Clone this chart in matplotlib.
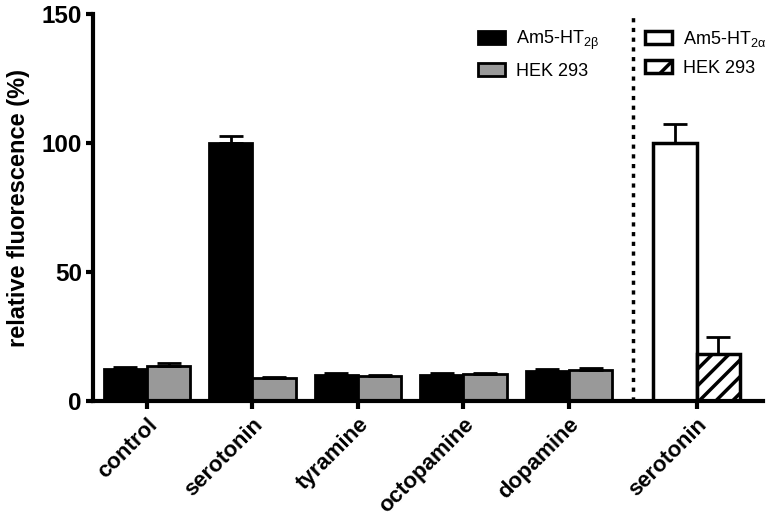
import matplotlib
matplotlib.use("Agg")
import matplotlib.pyplot as plt
from matplotlib.patches import Patch
import numpy as np

plt.rcParams['font.family'] = ['Liberation Sans', 'DejaVu Sans']
plt.rcParams['hatch.linewidth'] = 2.5

# data
ligands = ['control', 'serotonin', 'tyramine', 'octopamine', 'dopamine']
beta_vals = [12.6, 100.2, 10.1, 10.1, 11.7]
beta_err = [0.7, 2.5, 0.6, 0.9, 0.6]
hek_vals = [13.7, 8.9, 9.8, 10.3, 12.1]
hek_err = [1.0, 0.4, 0.4, 0.6, 0.7]

alpha_label = 'serotonin'
alpha_val = 100.2
alpha_err = 7.0
alpha_hek_val = 18.2
alpha_hek_err = 6.5

yticks = [0, 50, 100, 150]

fig = plt.figure(figsize=(7.68, 5.2), dpi=100)
ax = fig.add_axes([93 / 768, 0.2288, 670 / 768, 0.7442])

w = 0.41
x = np.arange(len(ligands))
x2 = 5.21
err_kw = dict(elinewidth=2, capthick=2, capsize=8.5, ecolor='black')

ax.bar(x - w / 2, beta_vals, w, color='black', edgecolor='black', linewidth=2,
       yerr=[np.zeros(len(x)), beta_err], error_kw=err_kw, zorder=2)
ax.bar(x + w / 2, hek_vals, w, color='#999999', edgecolor='black', linewidth=2,
       yerr=[np.zeros(len(x)), hek_err], error_kw=err_kw, zorder=2)
ax.bar([x2 - w / 2], [alpha_val], w, color='white', edgecolor='black', linewidth=2.5,
       yerr=[[0], [alpha_err]], error_kw=err_kw, zorder=2)
ax.bar([x2 + w / 2], [alpha_hek_val], w, color='white', edgecolor='black', linewidth=2.5,
       hatch='//', yerr=[[0], [alpha_hek_err]], error_kw=err_kw, zorder=2)

ax.axvline(4.61, ymin=0, ymax=1, color='black', linestyle=(0, (1.2, 1.6)), linewidth=2.5)

ax.set_xlim(-0.512, 5.84)
ax.set_ylim(0, 150)
ax.set_yticks(yticks)
ax.set_yticklabels([str(t) for t in yticks], fontsize=17.5, fontweight='bold')
ax.set_xticks(list(x) + [x2])
ax.set_xticklabels(ligands + [alpha_label], rotation=45, ha='right',
                   rotation_mode='anchor', fontsize=16, fontweight='bold')
ax.set_ylabel('relative fluorescence (%)', fontsize=17, fontweight='bold', labelpad=8)

for s in ['top', 'right']:
    ax.spines[s].set_visible(False)
for s in ['left', 'bottom']:
    ax.spines[s].set_linewidth(3)
ax.tick_params(axis='y', width=3, length=5, pad=3, direction='out')
ax.tick_params(axis='x', width=3, length=6, direction='out')

leg_kw = dict(loc='upper left', frameon=False, fontsize=13, handlelength=1.5,
              handleheight=0.75, labelspacing=0.6, handletextpad=0.6,
              borderpad=0, borderaxespad=0)
h1 = [Patch(facecolor='black', edgecolor='black', linewidth=2),
      Patch(facecolor='#999999', edgecolor='black', linewidth=2)]
leg1 = ax.legend(h1, [r'Am5-HT$_{\mathregular{2\beta}}$', 'HEK 293'],
                 bbox_to_anchor=((478 - 93) / 670, 0.962), **leg_kw)
ax.add_artist(leg1)
h2 = [Patch(facecolor='white', edgecolor='black', linewidth=2.5),
      Patch(facecolor='white', edgecolor='black', linewidth=2.5, hatch='/')]
ax.legend(h2, [r'Am5-HT$_{\mathregular{2\alpha}}$', 'HEK 293'],
          bbox_to_anchor=((645 - 93) / 670, 0.962), **leg_kw)

fig.savefig('out.png', dpi=100)
